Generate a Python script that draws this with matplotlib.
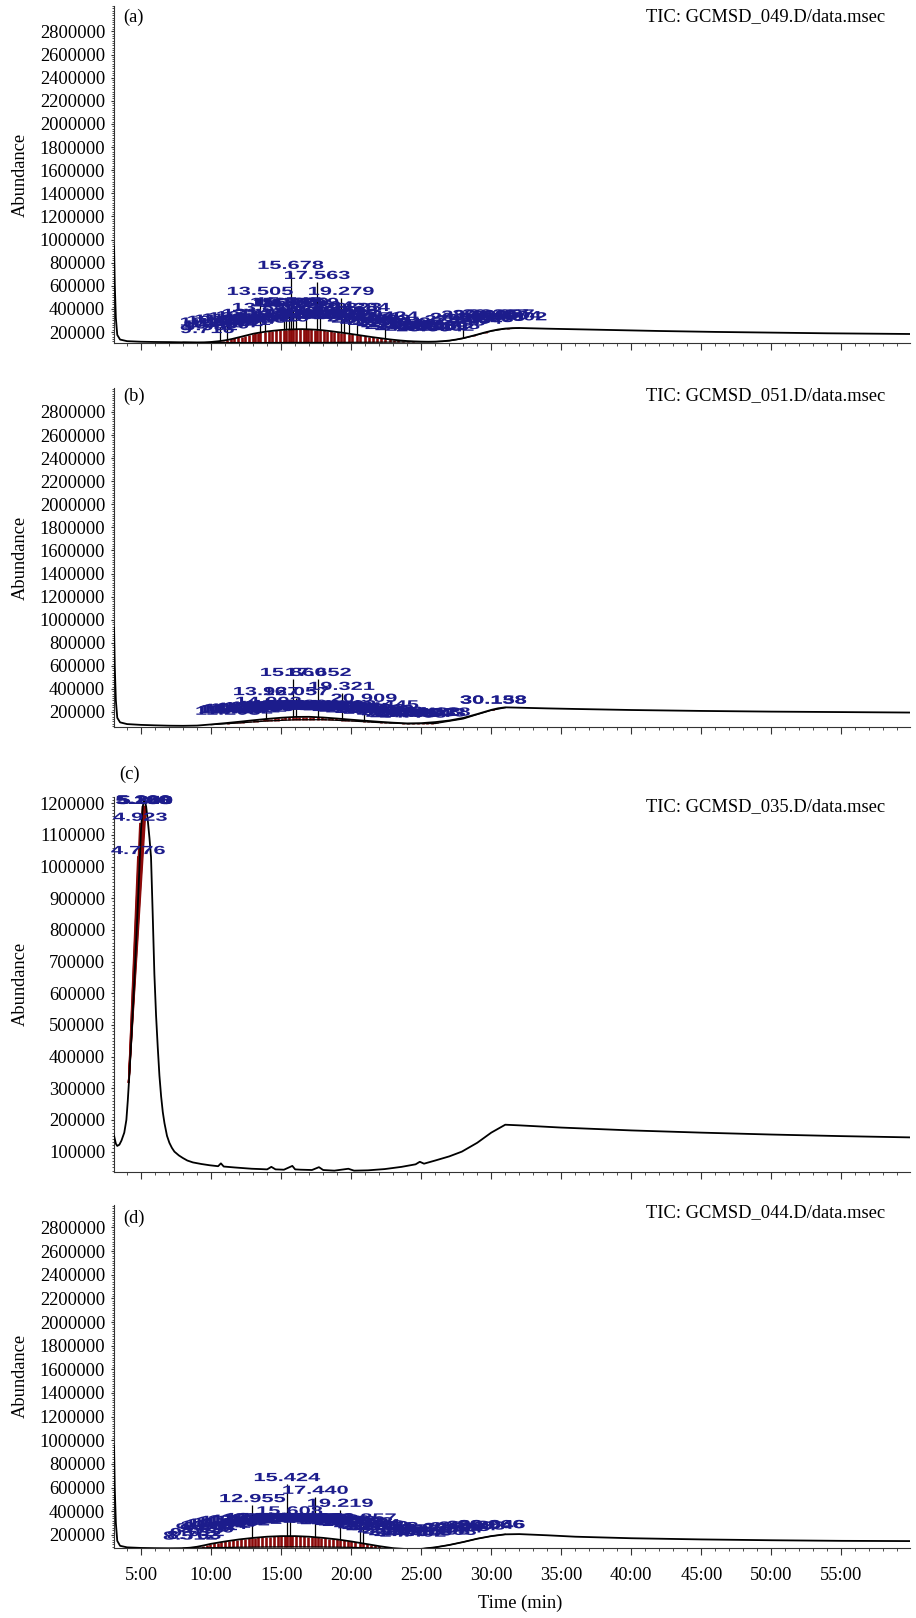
import matplotlib
matplotlib.use("Agg")
import matplotlib.pyplot as plt
import numpy as np
from matplotlib import patheffects
from matplotlib.ticker import MultipleLocator, FixedLocator, FuncFormatter
from matplotlib.transforms import Affine2D

plt.rcParams['font.family'] = ['Liberation Serif', 'DejaVu Serif']

# ---------------- data (min, counts) ----------------
# (a) GCMSD_049
a_time = [3.07, 3.12, 3.2, 3.3, 3.5, 4.0, 5.0, 6.0, 7.0, 8.0, 9.0, 9.5, 10.0, 10.5,
          11.0, 11.5, 12.0, 12.5, 13.0, 13.5, 14.0, 14.5, 15.0, 15.5, 16.0, 16.5,
          17.0, 17.5, 18.0, 18.5, 19.0, 19.5, 20.0, 20.5, 21.0, 21.5, 22.0, 22.5,
          23.0, 23.5, 24.0, 24.5, 25.0, 25.5, 26.0, 26.5, 27.0, 27.5, 28.0, 28.5,
          29.0, 29.5, 30.0, 30.5, 31.0, 31.5, 32.0, 33.0, 34.0, 36.0, 38.0, 40.0,
          42.0, 44.0, 46.0, 48.0, 50.0, 52.0, 54.0, 56.0, 58.0, 59.9]
a_abund = [940000, 620000, 320000, 175000, 135000, 121000, 116000, 114000, 113000,
           111000, 109000, 110000, 114000, 120000, 128000, 140000, 155000, 170000,
           185000, 196000, 205000, 212000, 218000, 222000, 224000, 225000, 223000,
           220000, 215000, 208000, 200000, 192000, 183000, 174000, 165000, 156000,
           148000, 140000, 133000, 127000, 122000, 119000, 117000, 116000, 117000,
           120000, 126000, 135000, 147000, 162000, 178000, 195000, 210000, 222000,
           230000, 234000, 235000, 232000, 229000, 224000, 219000, 214000, 209000,
           205000, 201000, 198000, 195000, 192000, 189000, 187000, 185000, 183000]
a_floor_time = [8, 10, 12, 14, 16, 18, 20, 22, 24, 26, 27, 28, 29, 30, 31, 32]
a_floor_abund = [111000, 110000, 109000, 109000, 110000, 110000, 111000, 112000,
                 114000, 116000, 124000, 145000, 176000, 208000, 228000, 233000]
a_peaks = [(9.716, 165000), (9.952, 190000), (10.142, 230000), (10.360, 205000),
           (10.611, 245000), (10.884, 215000), (11.120, 255000), (11.402, 225000),
           (11.668, 265000), (11.931, 235000), (12.180, 275000), (12.447, 245000),
           (12.731, 285000), (13.018, 255000), (13.117, 305000), (13.352, 265000),
           (13.505, 495000), (13.846, 356000), (14.103, 270000), (14.362, 300000),
           (14.619, 265000), (14.901, 310000), (15.170, 400000), (15.354, 395000),
           (15.545, 405000), (15.678, 720000), (15.853, 390000), (16.059, 400000),
           (16.351, 300000), (16.618, 285000), (16.759, 400000), (16.902, 320000),
           (17.150, 290000), (17.398, 330000), (17.563, 633000), (17.804, 370000),
           (18.051, 300000), (18.302, 325000), (18.551, 290000), (18.803, 305000),
           (19.052, 295000), (19.279, 495000), (19.518, 330000), (19.823, 356000),
           (20.051, 290000), (20.384, 356000), (20.652, 265000), (20.953, 255000),
           (21.251, 275000), (21.552, 245000), (21.853, 255000), (22.101, 235000),
           (22.424, 282000), (22.751, 225000), (23.052, 215000), (23.351, 200000),
           (23.702, 215000), (24.053, 190000), (24.401, 205000), (24.802, 185000),
           (25.203, 200000), (25.604, 180000), (26.003, 190000), (26.402, 185000),
           (26.808, 200000), (27.205, 230000), (27.603, 250000), (28.002, 270000),
           (28.404, 245000), (28.803, 290000), (29.208, 260000), (29.605, 295000),
           (30.008, 270000), (30.287, 300000), (30.697, 300000), (31.204, 285000),
           (31.602, 275000)]

# (b) GCMSD_051
b_time = [3.07, 3.12, 3.2, 3.3, 3.5, 4.0, 5.0, 6.0, 7.0, 8.0, 9.0, 10.0, 11.0, 12.0,
          13.0, 14.0, 15.0, 16.0, 17.0, 18.0, 19.0, 20.0, 21.0, 22.0, 23.0, 24.0,
          25.0, 26.0, 27.0, 28.0, 29.0, 29.5, 30.0, 30.5, 31.0, 32.0, 34.0, 36.0,
          40.0, 45.0, 50.0, 55.0, 59.9]
b_abund = [930000, 600000, 300000, 150000, 110000, 95000, 88000, 84000, 81000, 80000,
           82000, 92000, 103000, 115000, 128000, 140000, 150000, 157000, 158000,
           152000, 143000, 133000, 124000, 115000, 107000, 101000, 103000, 112000,
           126000, 148000, 182000, 200000, 218000, 232000, 240000, 237000, 231000,
           226000, 217000, 209000, 203000, 199000, 195000]
b_floor_time = [10, 12, 14, 16, 18, 20, 22, 24, 26, 28, 29, 30, 31]
b_floor_abund = [90000, 105000, 122000, 132000, 133000, 122000, 108000, 98000,
                 100000, 140000, 178000, 214000, 237000]
b_peaks = [(11.203, 150000), (11.420, 162000), (11.634, 168000), (11.851, 175000),
           (12.052, 160000), (12.304, 178000), (12.551, 170000), (12.803, 185000),
           (13.052, 176000), (13.304, 190000), (13.553, 182000), (13.804, 195000),
           (13.927, 320000), (14.092, 235000), (14.301, 200000), (14.553, 192000),
           (14.804, 205000), (15.052, 196000), (15.304, 208000), (15.553, 198000),
           (15.860, 486000), (16.057, 320000), (16.304, 205000), (16.553, 196000),
           (16.804, 210000), (17.052, 198000), (17.304, 205000), (17.652, 486000),
           (17.902, 200000), (18.153, 192000), (18.404, 198000), (18.653, 190000),
           (18.903, 188000), (19.153, 195000), (19.321, 365000), (19.553, 182000),
           (19.804, 188000), (20.053, 176000), (20.304, 182000), (20.553, 170000),
           (20.909, 262000), (21.203, 165000), (21.503, 172000), (21.803, 158000),
           (22.103, 166000), (22.445, 205000), (22.753, 150000), (23.104, 145000),
           (23.410, 132000), (23.703, 128000), (24.052, 135000), (24.403, 125000),
           (24.754, 132000), (25.103, 138000), (25.428, 142000), (25.803, 135000),
           (26.128, 142000), (30.138, 246000), (30.158, 246000)]

# (c) GCMSD_035
c_time = [3.07, 3.2, 3.3, 3.45, 3.6, 3.8, 3.95, 4.05, 4.16, 4.3, 4.52, 4.76, 5.0,
          5.12, 5.24, 5.36, 5.48, 5.6, 5.71, 5.83, 5.95, 6.07, 6.19, 6.31, 6.43,
          6.55, 6.67, 6.85, 7.02, 7.2, 7.38, 7.7, 7.98, 8.3, 8.7, 9.3, 9.9, 10.3,
          10.5, 10.7, 10.9, 11.7, 12.9, 13.5, 14.0, 14.3, 14.6, 15.2, 15.8, 16.0,
          16.4, 17.2, 17.7, 18.0, 18.8, 19.8, 20.2, 21.2, 22.4, 23.6, 24.6, 24.9,
          25.2, 26.0, 27.0, 27.9, 29.0, 30.0, 31.0, 32.0, 35.0, 40.0, 45.0, 50.0,
          55.0, 59.9]
c_abund = [150000, 125000, 118000, 122000, 135000, 160000, 200000, 260000, 340000,
           450000, 640000, 870000, 1120000, 1190000, 1212000, 1190000, 1145000,
           1090000, 1030000, 850000, 660000, 530000, 430000, 340000, 275000, 225000,
           190000, 150000, 128000, 112000, 100000, 88000, 80000, 72000, 66000, 61000,
           57000, 55000, 54000, 63000, 53000, 50000, 46000, 45000, 44000, 52000,
           44000, 43000, 55000, 44000, 43000, 42000, 51000, 42000, 40000, 46000,
           40000, 41000, 45000, 52000, 60000, 68000, 62000, 72000, 85000, 100000,
           128000, 160000, 185000, 183000, 176000, 167000, 160000, 154000, 149000,
           145000]
c_red_base = (4.12, 320000)
c_peaks = [(4.776, 1030000), (4.923, 1135000), (5.106, 1188000), (5.160, 1188000),
           (5.200, 1190000), (5.236, 1188000), (5.288, 1188000), (5.340, 1188000)]

# (d) GCMSD_044
d_time = [3.07, 3.12, 3.2, 3.3, 3.5, 4.0, 5.0, 6.0, 7.0, 8.0, 8.5, 9.0, 9.5, 10.0,
          11.0, 12.0, 13.0, 14.0, 15.0, 16.0, 17.0, 18.0, 19.0, 20.0, 21.0, 22.0,
          23.0, 24.0, 24.5, 25.0, 26.0, 27.0, 28.0, 29.0, 30.0, 31.0, 32.0, 34.0,
          36.0, 40.0, 45.0, 50.0, 55.0, 59.9]
d_abund = [950000, 600000, 300000, 150000, 108000, 95000, 90000, 88000, 87000, 88000,
           92000, 100000, 112000, 125000, 145000, 162000, 175000, 185000, 190000,
           190000, 185000, 175000, 162000, 145000, 125000, 105000, 88000, 80000,
           79000, 82000, 95000, 115000, 140000, 168000, 190000, 205000, 207000,
           197000, 185000, 172000, 162000, 155000, 150000, 148000]
d_floor_time = [8, 10, 12, 14, 16, 18, 20, 22, 24, 25, 26, 27, 28, 29, 30, 31]
d_floor_abund = [88000, 92000, 96000, 98000, 99000, 98000, 95000, 88000, 80000,
                 82000, 95000, 115000, 140000, 168000, 190000, 205000]
d_peaks = [(8.512, 135000), (8.763, 140000), (9.012, 165000), (9.406, 205000),
           (9.690, 195000), (9.952, 215000), (10.214, 225000), (10.472, 235000),
           (10.741, 245000), (11.023, 250000), (11.302, 260000), (11.581, 268000),
           (11.862, 255000), (12.143, 272000), (12.421, 278000), (12.702, 268000),
           (12.955, 452000), (13.117, 285000), (13.383, 292000), (13.652, 278000),
           (13.921, 290000), (14.203, 284000), (14.472, 292000), (14.751, 280000),
           (15.022, 286000), (15.253, 292000), (15.424, 630000), (15.608, 348000),
           (15.803, 286000), (16.072, 290000), (16.353, 280000), (16.623, 286000),
           (16.902, 284000), (17.173, 290000), (17.440, 522000), (17.622, 286000),
           (17.876, 290000), (18.152, 280000), (18.423, 270000), (18.702, 265000),
           (18.973, 272000), (19.219, 412000), (19.483, 265000), (19.752, 258000),
           (20.023, 255000), (20.302, 250000), (20.603, 256000), (20.857, 288000),
           (21.124, 240000), (21.402, 230000), (21.703, 224000), (22.004, 214000),
           (22.418, 215000), (22.803, 195000), (23.204, 185000), (23.603, 172000),
           (24.004, 165000), (24.402, 160000), (24.803, 170000), (25.253, 200000),
           (25.704, 188000), (26.103, 178000), (26.563, 175000), (27.004, 195000),
           (27.503, 208000), (28.004, 214000), (28.603, 220000), (29.204, 226000),
           (29.966, 232000), (30.046, 232000)]

RED = "#8b0a0a"
BLUE = "#1c1c8c"
FS = 13.3
SPIKE_MIN = 120000   # only peaks standing this far above the trace show a black stick


class Stretch(patheffects.AbstractPathEffect):
    # the ChemStation peak labels are a very wide sans, so widen the glyphs
    def __init__(self, sx):
        super().__init__()
        self.sx = sx

    def draw_path(self, renderer, gc, tpath, affine, rgbFace=None):
        ext = tpath.get_extents()
        cx = 0.5 * (ext.x0 + ext.x1)
        t = Affine2D().translate(-cx, 0).scale(self.sx, 1).translate(cx, 0) + affine
        renderer.draw_path(gc, tpath, t, rgbFace)


panels = [
    dict(time=a_time, abund=a_abund, ft=a_floor_time, fy=a_floor_abund, peaks=a_peaks,
         box=(0.1245, 0.788, 0.869, 0.2083), ylim=(105000, 3020000),
         yticks=np.arange(200000, 2800001, 200000), minor=20000,
         tag="(a)", tag_xy=(0.012, 0.967), tic="TIC: GCMSD_049.D/data.msec", tic_y=0.967),
    dict(time=b_time, abund=b_abund, ft=b_floor_time, fy=b_floor_abund, peaks=b_peaks,
         box=(0.1245, 0.5507, 0.869, 0.2095), ylim=(70000, 3008000),
         yticks=np.arange(200000, 2800001, 200000), minor=20000,
         tag="(b)", tag_xy=(0.012, 0.974), tic="TIC: GCMSD_051.D/data.msec", tic_y=0.977),
    dict(time=c_time, abund=c_abund, ft=None, fy=None, peaks=c_peaks,
         box=(0.1245, 0.2757, 0.869, 0.2318), ylim=(36000, 1220000),
         yticks=np.arange(100000, 1200001, 100000), minor=10000,
         tag="(c)", tag_xy=(0.006, 1.059), tic="TIC: GCMSD_035.D/data.msec", tic_y=0.975),
    dict(time=d_time, abund=d_abund, ft=d_floor_time, fy=d_floor_abund, peaks=d_peaks,
         box=(0.1245, 0.0433, 0.869, 0.212), ylim=(90000, 2990000),
         yticks=np.arange(200000, 2800001, 200000), minor=20000,
         tag="(d)", tag_xy=(0.012, 0.962), tic="TIC: GCMSD_044.D/data.msec", tic_y=0.977),
]

fig = plt.figure(figsize=(9.16, 16.18), dpi=100)

for i, p in enumerate(panels):
    ax = fig.add_axes(p["box"])
    t = np.asarray(p["time"], float)
    y = np.asarray(p["abund"], float)
    rt, top = (np.asarray(v, float) for v in zip(*p["peaks"]))

    if p["ft"] is not None:
        ft = np.asarray(p["ft"], float)
        fy = np.asarray(p["fy"], float)
        lo = np.interp(rt, ft, fy)
        hi = np.interp(rt, t, y)
        # integrated areas (red) and the integration baseline
        ax.vlines(rt, lo, hi, color=RED, lw=1.9, zorder=1)
        ax.plot(ft, fy, color="black", lw=0.9, zorder=2)
        up = (top - hi) > SPIKE_MIN
        ax.vlines(rt[up], hi[up], top[up], color="black", lw=0.9, zorder=3)
    else:
        bt, by = c_red_base
        for r, h in zip(rt, top):
            ax.plot([bt, r], [by, h], color=RED, lw=1.3, zorder=2)

    ax.plot(t, y, color="black", lw=1.3, zorder=3)

    for r, h in zip(rt, top):
        ax.text(r, h, f"{r:.3f}", ha="center", va="bottom", fontsize=8.5, color=BLUE,
                family=["Liberation Sans", "DejaVu Sans"], fontweight="bold",
                path_effects=[Stretch(1.85)], zorder=5)

    ax.set_xlim(3.07, 59.9)
    ax.set_ylim(*p["ylim"])
    for s in ("top", "right"):
        ax.spines[s].set_visible(False)
    for s in ("left", "bottom"):
        ax.spines[s].set_linewidth(0.8)
        ax.spines[s].set_color("#333333")

    ax.yaxis.set_major_locator(FixedLocator(p["yticks"]))
    ax.yaxis.set_minor_locator(MultipleLocator(p["minor"]))
    ax.yaxis.set_major_formatter(FuncFormatter(lambda v, pos: f"{v:.0f}"))
    ax.xaxis.set_major_locator(MultipleLocator(5))
    ax.xaxis.set_minor_locator(MultipleLocator(1))
    ax.xaxis.set_major_formatter(FuncFormatter(lambda v, pos: f"{int(round(v))}:00"))

    ax.tick_params(axis="y", which="major", direction="out", length=2.4, width=0.8,
                   pad=4, labelsize=FS, color="#333333")
    ax.tick_params(axis="y", which="minor", direction="out", length=1.1, width=0.6,
                   color="#333333")
    ax.tick_params(axis="x", which="major", direction="out", length=4.8, width=0.8,
                   pad=8.6, labelsize=FS, color="#333333")
    ax.tick_params(axis="x", which="minor", direction="out", length=2.4, width=0.6,
                   color="#333333")
    if i < 3:
        ax.tick_params(axis="x", labelbottom=False)
    else:
        ax.set_xlabel("Time (min)", fontsize=FS)
        ax.xaxis.set_label_coords(0.51, -0.137)

    ax.set_ylabel("Abundance", fontsize=FS)
    ax.yaxis.set_label_coords(-0.107, 0.5)

    ax.text(p["tag_xy"][0], p["tag_xy"][1], p["tag"], transform=ax.transAxes,
            ha="left", va="center", fontsize=FS)
    ax.text(0.969, p["tic_y"], p["tic"], transform=ax.transAxes,
            ha="right", va="center", fontsize=FS)

fig.savefig("out.png", dpi=100, facecolor="white")
